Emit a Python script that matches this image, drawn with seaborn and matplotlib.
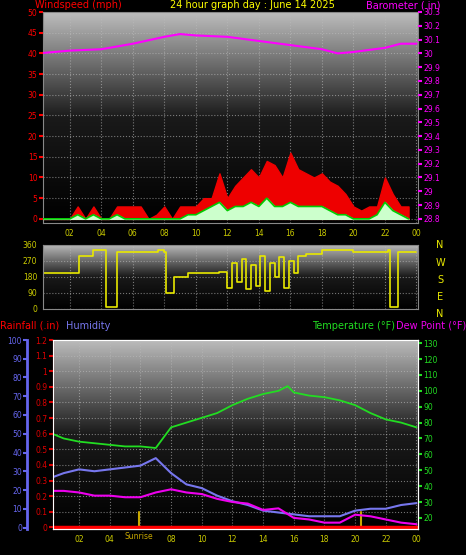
import numpy as np
import matplotlib
matplotlib.use("Agg")
import matplotlib.pyplot as plt
import seaborn as sns
import pandas as pd

sns.set_style("dark")
plt.rcParams['font.family'] = ['DejaVu Sans']

# ---- data ----
wind_t = [i * 0.5 for i in range(48)]
gust = [0,0,0,0,0,3,0,3, 0,0,3,3,3,3,0,1, 3,0,3,3,3,5,5,11, 5,8,10,12,10,14,13,10,
        16,12,11,10,11,9,8,6, 3,2,3,3,10,6,3,3]
avg = [0,0,0,0,0,1,0,1, 0,0,1,0,0,0,0,0, 0,0,0,1,1,2,3,4, 2,3,3,4,3,5,3,3,
       4,3,3,3,3,2,1,1, 0,0,0,1,4,2,1,0]
baro_t = [0, 2, 4, 6, 8, 9, 10, 12, 14, 16, 18, 19, 20, 22, 23, 24]
baro = [30.00, 30.02, 30.03, 30.07, 30.12, 30.14, 30.13, 30.12, 30.09, 30.06, 30.03, 30.00, 30.01, 30.04, 30.07, 30.07]
dir_t = [0, 2.5, 2.6, 3.4, 3.5, 4.2, 4.3, 4.9, 5.0, 7.4, 7.6, 8.0, 8.1, 8.5, 8.6, 9.5, 11.5, 12.0, 12.3, 12.6,
         12.9, 13.2, 13.5, 13.8, 14.1, 14.4, 14.7, 15.0, 15.3, 15.6, 15.9, 16.2, 16.5, 17.0, 18.0, 20.0, 22.2,
         22.3, 22.7, 22.8, 24]
direction = [200, 200, 300, 300, 330, 330, 10, 10, 320, 320, 330, 320, 90, 90, 180, 200, 210, 120, 260, 150,
             280, 110, 250, 130, 300, 100, 260, 180, 290, 120, 270, 200, 300, 310, 330, 320, 330,
             10, 10, 320, 320]
temp_t = [0, 1, 2, 3, 4, 5, 6, 7, 8, 9, 10, 11, 12, 13, 14, 15, 15.6, 16, 17, 18, 19, 20, 21, 22, 23, 24]
temp = [74, 70, 68, 67, 66, 65, 65, 64, 77, 80, 83, 86, 91, 95, 98, 100, 103, 99, 97, 96, 94, 91, 86, 82, 80, 77]
hum_t = list(range(25))
hum = [26, 29, 31, 30, 31, 32, 33, 37, 29, 23, 21, 17, 14, 12, 9, 8, 7, 6, 6, 6, 9, 10, 10, 12, 13]
dew = [37, 37, 36, 34, 34, 33, 33, 36, 38, 36, 35, 32, 30, 29, 25, 26, 20, 19, 17, 17, 22, 21, 19, 17, 16]
hour_ticks = list(range(2, 25, 2))
hour_labels = ["%02d" % (h % 24) for h in hour_ticks]

W, H = 466, 555
fig = plt.figure(figsize=(W / 100, H / 100), dpi=100, facecolor="black")

def rect(l, t, r, b):
    return [l / W, 1 - b / H, (r - l) / W, (b - t) / H]

grad = np.linspace(1, 0, 256).reshape(-1, 1)
cmap = matplotlib.colors.LinearSegmentedColormap.from_list("g", ["#000000", "#1a1a1a", "#bdbdbd"])
def bg(ax):
    ax.set_facecolor("black")
    ax.imshow(grad, cmap=cmap, aspect="auto", extent=[0, 1, 0, 1], transform=ax.transAxes,
              zorder=0, vmin=0, vmax=1)
    ax.grid(True, color="#bbbbbb", linestyle=":", linewidth=0.8, alpha=0.6)
    for s in ax.spines.values():
        s.set_color("#888888")

XL = (0.3, 24.1)
tkw = dict(labelsize=5.5, length=3, width=1.5, pad=1)
FS = 7

# ---- top panel ----
ax1 = fig.add_axes(rect(43, 12, 418, 223))
bg(ax1)
df_w = pd.DataFrame({"t": wind_t, "gust": gust, "avg": avg})
ax1.fill_between(wind_t, gust, color="#ee0000", zorder=2)
ax1.fill_between(wind_t, avg, color="#ccffcc", zorder=3)
sns.lineplot(data=df_w, x="t", y="avg", ax=ax1, color="#00cc00", linewidth=1.2, zorder=4)
ax1.set_xlim(*XL); ax1.set_ylim(-1, 50)
ax1.set_yticks(range(0, 51, 5))
ax1.set_xticks(hour_ticks); ax1.set_xticklabels(hour_labels)
ax1.tick_params(axis="y", colors="red", **tkw)
ax1.tick_params(axis="x", colors="#cccc00", **tkw)
ax1.set_xlabel(""); ax1.set_ylabel("")
ax1b = ax1.twinx()
sns.lineplot(x=baro_t, y=baro, ax=ax1b, color="#ff00ff", linewidth=1.5)
bt = np.round(np.arange(28.8, 30.31, 0.1), 1)
ax1b.set_ylim(28.77, 30.3)
ax1b.set_yticks(bt)
ax1b.set_yticklabels(["%g" % v for v in bt])
ax1b.tick_params(axis="y", colors="#ff00ff", **tkw)
ax1b.grid(False)
for s in ax1b.spines.values(): s.set_visible(False)
fig.text(35 / W, 1 - 5 / H, "Windspeed (mph)", color="red", fontsize=FS, va="center")
fig.text(252 / W, 1 - 5 / H, "24 hour graph day : June 14 2025", color="yellow", fontsize=FS, va="center", ha="center")
fig.text(440 / W, 1 - 5 / H, "Barometer (.in)", color="#ff00ff", fontsize=FS, va="center", ha="right")

# ---- direction panel ----
ax2 = fig.add_axes(rect(43, 245, 418, 309))
bg(ax2)
sns.lineplot(x=dir_t, y=direction, ax=ax2, color="#e8e800", linewidth=1.2, drawstyle="steps-post")
ax2.set_xlim(*XL); ax2.set_ylim(0, 360)
ax2.set_yticks([0, 90, 180, 270, 360])
ax2.set_xticks(hour_ticks); ax2.set_xticklabels([])
ax2.tick_params(axis="y", colors="#cccc00", **tkw)
ax2.tick_params(axis="x", length=0)
for lab, y in zip(["N", "W", "S", "E", "N"], [245, 263, 280, 297, 314]):
    fig.text(440 / W, 1 - y / H, lab, color="#e8e800", fontsize=FS, va="center", ha="center")

# ---- bottom panel ----
ax3 = fig.add_axes(rect(53, 340, 418, 529))
bg(ax3)
ax3.axhline(0, color="red", linewidth=2.5, zorder=5)
ax3.set_xlim(*XL); ax3.set_ylim(-0.01, 1.2)
rt = np.round(np.arange(0, 1.21, 0.1), 1)
ax3.set_yticks(rt)
ax3.set_yticklabels(["%g" % v for v in rt])
ax3.tick_params(axis="y", colors="#dd0000", **tkw)
ax3.spines["left"].set_color("#dd0000")
ax3.set_xticks(hour_ticks)
ax3.set_xticklabels(["" if l == "06" else l for l in hour_labels])
ax3.tick_params(axis="x", colors="#cccc00", **tkw)
for x in [5.9, 20.4]:
    ax3.plot([x, x], [0, 0.1], color="#c8a800", linewidth=1.5, zorder=4)
ax3.text(5.9, -0.06, "Sunrise", color="#c8a800", fontsize=5.5, ha="center", va="center")

ax3h = ax3.twinx()
ax3h.yaxis.set_label_position("left"); ax3h.yaxis.tick_left()
ax3h.spines["left"].set_position(("axes", -0.07))
ax3h.spines["left"].set_color("#6666ee"); ax3h.spines["left"].set_linewidth(2)
sns.lineplot(x=hum_t, y=hum, ax=ax3h, color="#7777ee", linewidth=1.5)
ax3h.set_ylim(-0.8, 100)
ax3h.set_yticks(range(0, 101, 10))
ax3h.tick_params(axis="y", colors="#6666ee", **tkw)
ax3h.grid(False)

ax3t = ax3.twinx()
sns.lineplot(x=temp_t, y=temp, ax=ax3t, color="#22dd22", linewidth=1.3)
sns.lineplot(x=hum_t, y=dew, ax=ax3t, color="#ee00ee", linewidth=1.5)
ax3t.set_ylim(13, 132)
ax3t.set_yticks(range(20, 131, 10))
ax3t.tick_params(axis="y", colors="#22dd22", **tkw)
ax3t.grid(False)
for a in (ax3h, ax3t):
    a.set_ylabel("")
fig.text(0, 1 - 326 / H, "Rainfall (.in)", color="red", fontsize=FS, va="center")
fig.text(66 / W, 1 - 326 / H, "Humidity", color="#7777ee", fontsize=FS, va="center")
fig.text(312 / W, 1 - 326 / H, "Temperature (°F)", color="#22dd22", fontsize=FS, va="center")
fig.text(466 / W, 1 - 326 / H, "Dew Point (°F)", color="#ee00ee", fontsize=FS, va="center", ha="right")

fig.savefig("out.png", dpi=100, facecolor="black")
